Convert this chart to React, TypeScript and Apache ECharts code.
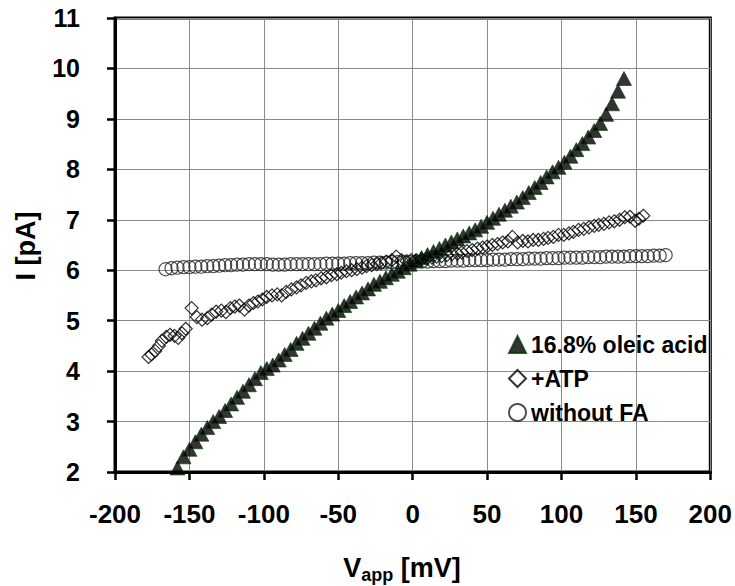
import React, { useEffect, useRef } from "react";
import * as echarts from "echarts";

const xTicks = [-200, -150, -100, -50, 0, 50, 100, 150, 200];
const yTicks = [2, 3, 4, 5, 6, 7, 8, 9, 10, 11];

const seriesNames = ["16.8% oleic acid", "+ATP", "without FA"];

// 16.8% oleic acid
const oleicV = [
  -158, -154, -150, -146, -142, -138, -134, -130, -126, -122, -118, -114, -110, -106, -102,
  -98, -94, -90, -86, -82, -78, -74, -70, -66, -62, -58, -54, -50, -46, -42, -38, -34, -30,
  -26, -22, -18, -14, -10, -6, -2, 2, 6, 10, 14, 18, 22, 26, 30, 34, 38, 42, 46, 50, 54, 58,
  62, 66, 70, 74, 78, 82, 86, 90, 94, 98, 102, 106, 110, 114, 118, 122, 126, 130, 134, 138, 142,
];
const oleicI = [
  2.08, 2.3, 2.45, 2.6, 2.75, 2.88, 3.0, 3.1, 3.22, 3.35, 3.48, 3.6, 3.73, 3.85, 3.97,
  4.05, 4.12, 4.22, 4.33, 4.43, 4.55, 4.65, 4.75, 4.85, 4.95, 5.05, 5.13, 5.2, 5.3, 5.38, 5.47, 5.55, 5.63,
  5.72, 5.78, 5.85, 5.92, 5.98, 6.05, 6.12, 6.19, 6.25, 6.31, 6.37, 6.43, 6.5, 6.56, 6.62, 6.68, 6.74, 6.8, 6.87, 6.95, 7.03, 7.11,
  7.19, 7.27, 7.35, 7.44, 7.54, 7.64, 7.74, 7.85, 7.95, 8.04, 8.14, 8.26, 8.39, 8.51, 8.64, 8.77, 8.91, 9.09, 9.3, 9.55, 9.8,
];

// +ATP
const atpV = [
  -177.5, -175.5, -173, -170.5, -168.5, -165.5, -163, -160, -157.5, -155, -152.5, -148.5, -145, -141.5,
  -138, -135, -132, -128.5, -125.5, -122.5, -119.5, -116.5, -113, -110, -107, -104, -101, -98, -94.5,
  -91, -88, -85, -81.5, -78, -75, -71.5, -68, -65, -61.5, -58, -54.5, -51, -48, -44.5, -41, -37.5,
  -34, -31, -27.5, -24, -21, -17.5, -14, -11, -7.5, -4, -1, 2.5, 6, 9.5, 13, 16, 19.5, 23, 26.5, 30,
  33, 36.5, 40, 43.5, 47, 50, 53.5, 57, 60.5, 64, 67, 70.5, 74, 77.5, 81, 84.5, 88, 91, 94.5, 98,
  101.5, 105, 108, 111.5, 115, 118.5, 122, 125, 128.5, 132, 135.5, 139, 142.5, 146, 149.5, 152, 155,
];
const atpI = [
  4.28, 4.33, 4.4, 4.5, 4.6, 4.68, 4.72, 4.7, 4.66, 4.75, 4.84, 5.25, 5.07, 5.02,
  5.05, 5.12, 5.18, 5.2, 5.17, 5.25, 5.28, 5.3, 5.22, 5.3, 5.35, 5.38, 5.42, 5.47, 5.5,
  5.52, 5.5, 5.57, 5.62, 5.66, 5.7, 5.75, 5.78, 5.8, 5.84, 5.86, 5.9, 5.92, 5.95, 5.98, 6.0, 6.02,
  6.05, 6.08, 6.1, 6.12, 6.14, 6.17, 6.2, 6.27, 6.2, 6.18, 6.2, 6.2, 6.22, 6.23, 6.25, 6.27, 6.28, 6.3, 6.32, 6.33,
  6.35, 6.38, 6.4, 6.43, 6.45, 6.47, 6.5, 6.52, 6.55, 6.57, 6.66, 6.55, 6.58, 6.57, 6.6, 6.6, 6.62, 6.64, 6.66, 6.7,
  6.7, 6.73, 6.76, 6.8, 6.82, 6.85, 6.88, 6.9, 6.92, 6.95, 6.97, 7.0, 7.05, 7.06, 6.98, 7.02, 7.08,
];

// without FA
const noFaV = [
  -166, -162, -158, -154, -150, -146, -142, -138, -134, -130, -126, -122, -118, -114, -110, -106,
  -102, -98, -94, -90, -86, -82, -78, -74, -70, -66, -62, -58, -54, -50, -46, -42, -38, -34, -30,
  -26, -22, -18, -14, -10, -6, -2, 2, 6, 10, 14, 18, 22, 26, 30, 34, 38, 42, 46, 50, 54, 58, 62,
  66, 70, 74, 78, 82, 86, 90, 94, 98, 102, 106, 110, 114, 118, 122, 126, 130, 134, 138, 142, 146,
  150, 154, 158, 162, 166, 170,
];
const noFaI = [
  6.02, 6.04, 6.05, 6.06, 6.06, 6.07, 6.07, 6.08, 6.08, 6.09, 6.1, 6.1, 6.11, 6.11, 6.12, 6.12,
  6.12, 6.12, 6.11, 6.11, 6.11, 6.12, 6.12, 6.12, 6.12, 6.12, 6.12, 6.13, 6.13, 6.13, 6.13, 6.14, 6.14, 6.14, 6.14,
  6.15, 6.15, 6.15, 6.16, 6.16, 6.16, 6.16, 6.17, 6.17, 6.17, 6.18, 6.18, 6.18, 6.19, 6.19, 6.19, 6.2, 6.2, 6.2, 6.2, 6.21, 6.21, 6.21,
  6.22, 6.22, 6.22, 6.23, 6.23, 6.23, 6.24, 6.24, 6.24, 6.25, 6.25, 6.25, 6.25, 6.26, 6.26, 6.26, 6.27, 6.27, 6.27, 6.27, 6.28,
  6.28, 6.28, 6.28, 6.29, 6.29, 6.3,
];

const FONT = "'Liberation Sans', Arial, Helvetica, sans-serif";

const pairs = (xs: number[], ys: number[]) => xs.map((x, i) => [x, ys[i]]);

export default function App() {
  const ref = useRef<HTMLDivElement>(null);

  useEffect(() => {
    if (!ref.current) return;
    const chart = echarts.init(ref.current, null, { renderer: "svg" });
    chart.setOption({
      animation: false,
      backgroundColor: "#ffffff",
      grid: {
        left: 115,
        right: 24,
        top: 18,
        bottom: 114,
        show: true,
        borderColor: "#000",
        borderWidth: 3,
        backgroundColor: "transparent",
      },
      xAxis: {
        type: "value",
        min: xTicks[0],
        max: xTicks[xTicks.length - 1],
        interval: 50,
        axisLine: { show: true, onZero: false, lineStyle: { color: "#000", width: 3 } },
        axisTick: { show: true, inside: false, length: 8, lineStyle: { color: "#000", width: 2.5 } },
        splitLine: { show: true, lineStyle: { color: "#8a8a8a", width: 1 } },
        axisLabel: {
          margin: 29,
          fontFamily: FONT,
          fontWeight: "bold",
          fontSize: 26,
          color: "#000",
        },
      },
      yAxis: {
        type: "value",
        min: yTicks[0],
        max: yTicks[yTicks.length - 1],
        interval: 1,
        axisLine: { show: true, onZero: false, lineStyle: { color: "#000", width: 3 } },
        axisTick: { show: true, inside: false, length: 8, lineStyle: { color: "#000", width: 2.5 } },
        splitLine: { show: true, lineStyle: { color: "#8a8a8a", width: 1 } },
        axisLabel: {
          margin: 35,
          fontFamily: FONT,
          fontWeight: "bold",
          fontSize: 25,
          color: "#000",
        },
      },
      legend: {
        orient: "vertical",
        left: 503,
        top: 328,
        itemWidth: 17,
        itemHeight: 17,
        itemGap: 11,
        data: seriesNames,
        textStyle: { fontFamily: FONT, fontWeight: "bold", fontSize: 23, color: "#000" },
      },
      graphic: [
        {
          type: "text",
          x: 26,
          y: 246,
          rotation: Math.PI / 2,
          style: {
            text: "I [pA]",
            fontFamily: FONT,
            fontWeight: "bold",
            fontSize: 27,
            fill: "#000",
            textAlign: "center",
            textVerticalAlign: "middle",
          },
        },
        {
          type: "text",
          x: 402,
          y: 568,
          style: {
            text: "{a|V}{b|app}{a| [mV]}",
            fontFamily: FONT,
            fontWeight: "bold",
            fill: "#000",
            textAlign: "center",
            textVerticalAlign: "middle",
            rich: {
              a: { fontFamily: FONT, fontWeight: "bold", fontSize: 27, fill: "#000", lineHeight: 30 },
              b: {
                fontFamily: FONT,
                fontWeight: "bold",
                fontSize: 18,
                fill: "#000",
                lineHeight: 30,
                padding: [14, 0, 0, 0],
              },
            },
          },
        },
      ],
      series: [
        {
          name: seriesNames[2],
          type: "scatter",
          symbol: "circle",
          symbolSize: 13,
          z: 2,
          itemStyle: { color: "rgba(255,255,255,0)", borderColor: "#222", borderWidth: 1.2 },
          data: pairs(noFaV, noFaI),
        },
        {
          name: seriesNames[1],
          type: "scatter",
          symbol: "diamond",
          symbolSize: 13,
          z: 3,
          itemStyle: { color: "rgba(255,255,255,0)", borderColor: "#000", borderWidth: 1.2 },
          data: pairs(atpV, atpI),
        },
        {
          name: seriesNames[0],
          type: "scatter",
          symbol: "triangle",
          symbolSize: [15, 14],
          z: 4,
          itemStyle: { color: "#000", borderColor: "#063806", borderWidth: 0.8 },
          data: pairs(oleicV, oleicI),
        },
      ],
    });
    return () => chart.dispose();
  }, []);

  return (
    <div
      ref={ref}
      style={{ position: "fixed", left: 0, top: 0, width: 735, height: 586 }}
    />
  );
}
